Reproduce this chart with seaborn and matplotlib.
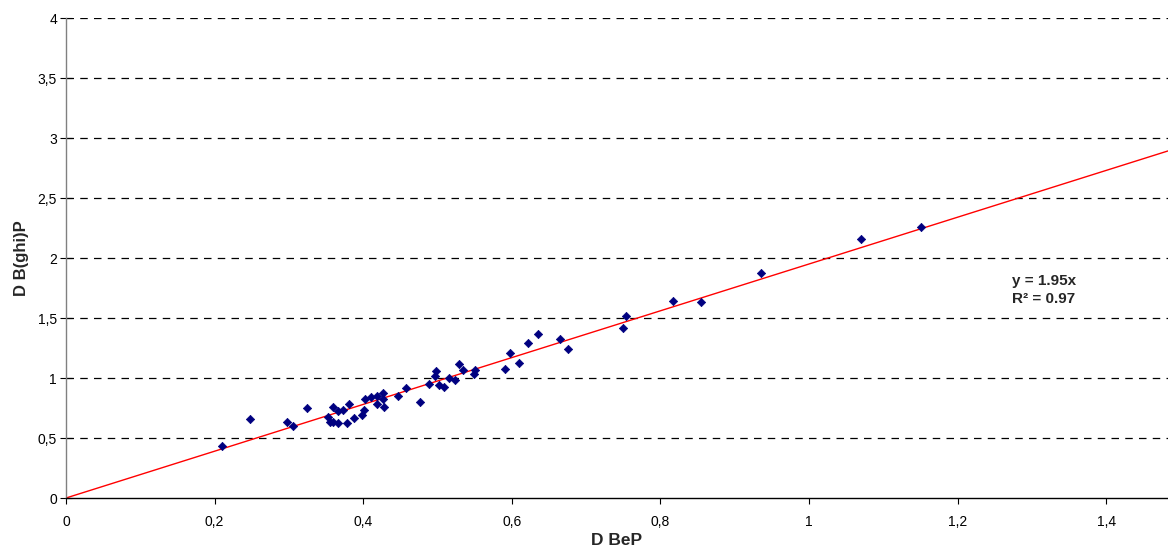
import matplotlib
matplotlib.use("Agg")
import matplotlib.pyplot as plt
import seaborn as sns
import numpy as np
import pandas as pd

# Data
d_bep = [0.210, 0.248, 0.298, 0.305, 0.324, 0.352, 0.355, 0.360, 0.360, 0.366,
         0.366, 0.373, 0.378, 0.381, 0.388, 0.398, 0.401, 0.403, 0.411, 0.419,
         0.419, 0.426, 0.426, 0.428, 0.447, 0.458, 0.476, 0.489, 0.497, 0.498,
         0.502, 0.509, 0.516, 0.524, 0.529, 0.534, 0.549, 0.551, 0.591, 0.597,
         0.610, 0.622, 0.635, 0.665, 0.675, 0.749, 0.754, 0.817, 0.855, 0.935,
         1.070, 1.151]
d_bghip = [0.430, 0.656, 0.636, 0.600, 0.747, 0.672, 0.630, 0.760, 0.630, 0.727,
           0.627, 0.733, 0.627, 0.780, 0.664, 0.690, 0.733, 0.822, 0.839, 0.850,
           0.783, 0.872, 0.822, 0.761, 0.850, 0.914, 0.797, 0.947, 1.019, 1.058,
           0.940, 0.922, 1.003, 0.983, 1.117, 1.067, 1.030, 1.067, 1.075, 1.206,
           1.122, 1.289, 1.367, 1.322, 1.242, 1.414, 1.519, 1.644, 1.633, 1.872,
           2.161, 2.261]
slope = 1.95
r2 = 0.97
x_ticks = [0, 0.2, 0.4, 0.6, 0.8, 1.0, 1.2, 1.4]
x_tick_labels = ["0", "0,2", "0,4", "0,6", "0,8", "1", "1,2", "1,4"]
y_ticks = [0, 0.5, 1, 1.5, 2, 2.5, 3, 3.5, 4]
y_tick_labels = ["0", "0,5", "1", "1,5", "2", "2,5", "3", "3,5", "4"]

sns.set_theme(style="white")
plt.rcParams['font.family'] = ['Liberation Sans', 'DejaVu Sans']

W, H = 1168, 553
fig = plt.figure(figsize=(W / 100, H / 100), dpi=100)
ax = fig.add_axes([66 / W, (H - 498) / H, (W - 66) / W, (498 - 18) / H])

xmax = (W - 66) / 743.0
df = pd.DataFrame({"D BeP": d_bep, "D B(ghi)P": d_bghip})
line_df = pd.DataFrame({"x": [0, xmax], "y": [0, slope * xmax]})

for yv in y_ticks[1:]:
    ax.axhline(yv, color="black", lw=0.9, ls=(0, (6, 5)), zorder=1)

sns.lineplot(data=line_df, x="x", y="y", ax=ax, color="#ff0000", lw=1.0, zorder=2)
sns.scatterplot(data=df, x="D BeP", y="D B(ghi)P", ax=ax, marker="D", s=18,
                color="#000080", edgecolor="#000080", linewidth=0.5, zorder=3)

ax.set_xlim(0, xmax)
ax.set_ylim(0, 4)
ax.set_xticks(x_ticks)
ax.set_xticklabels(x_tick_labels)
ax.set_yticks(y_ticks)
ax.set_yticklabels(y_tick_labels)
ax.tick_params(axis="both", labelsize=10, colors="black", width=0.8,
               left=True, bottom=True)
ax.tick_params(axis="y", direction="inout", length=9, pad=2)
ax.tick_params(axis="x", direction="out", length=4, pad=8)

for s in ["top", "right"]:
    ax.spines[s].set_visible(False)
ax.spines["left"].set_color("#808080")
ax.spines["left"].set_linewidth(1.0)
ax.spines["bottom"].set_color("black")
ax.spines["bottom"].set_linewidth(1.0)

ax.set_xlabel("D BeP", fontsize=12.5, fontweight="bold", labelpad=3)
ax.set_ylabel("D B(ghi)P", fontsize=12, fontweight="bold", labelpad=6)

ax.text(1.273, 1.81, "y = 1.95x", fontsize=11, fontweight="bold", va="center", ha="left")
ax.text(1.273, 1.66, f"R² = {r2:.2f}", fontsize=11, fontweight="bold", va="center", ha="left")

fig.savefig("out.png", dpi=100)
